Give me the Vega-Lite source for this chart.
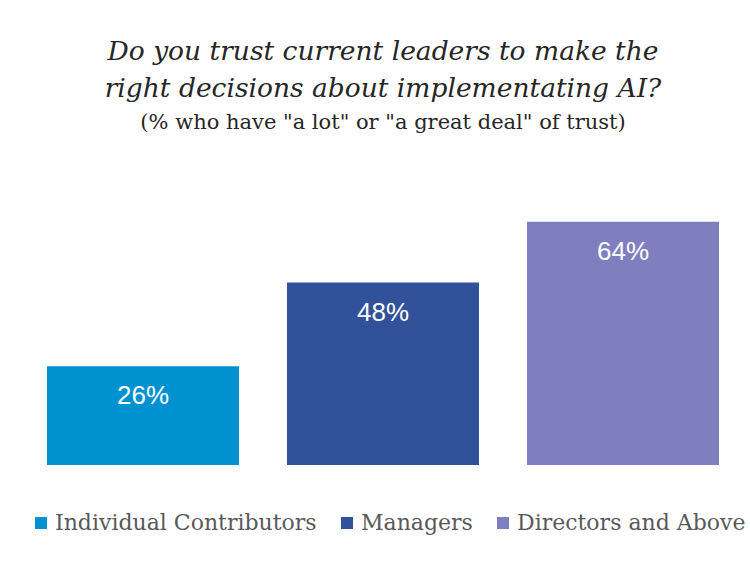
{
  "$schema": "https://vega.github.io/schema/vega-lite/v6.json",
  "autosize": "none",
  "width": 720,
  "height": 266,
  "padding": {"left": 23, "top": 199, "right": 7, "bottom": 101},
  "background": "white",
  "title": {
    "text": ["Do you trust current leaders to make the", "right decisions about implementating AI?"],
    "subtitle": "(% who have \"a lot\" or \"a great deal\" of trust)",
    "font": "DejaVu Serif",
    "fontStyle": "italic",
    "fontWeight": "normal",
    "fontSize": 26.5,
    "lineHeight": 37,
    "color": "#262626",
    "subtitleFont": "DejaVu Serif",
    "subtitleFontSize": 21,
    "subtitleColor": "#262626",
    "subtitlePadding": 10,
    "anchor": "middle",
    "offset": 66
  },
  "data": {
    "values": [
      {"group": "Individual Contributors", "value": 26, "label": "26%"},
      {"group": "Managers", "value": 48, "label": "48%"},
      {"group": "Directors and Above", "value": 64, "label": "64%"}
    ]
  },
  "config": {"view": {"stroke": null}},
  "layer": [
    {
      "mark": {"type": "bar"},
      "encoding": {
        "x": {"field": "group", "type": "nominal", "sort": null, "axis": null,
              "scale": {"paddingInner": 0.2, "paddingOuter": 0.1}},
        "y": {"field": "value", "type": "quantitative", "axis": null, "scale": {"domain": [0, 70]}},
        "color": {
          "field": "group", "type": "nominal", "sort": null,
          "scale": {"domain": ["Individual Contributors", "Managers", "Directors and Above"],
                    "range": ["#0092D0", "#31519A", "#7F7FBF"]},
          "legend": {
            "title": null,
            "orient": "bottom",
            "direction": "horizontal",
            "offset": 40,
            "padding": 7,
            "symbolType": "square",
            "symbolSize": 144,
            "symbolStrokeWidth": 0,
            "labelFont": "DejaVu Serif",
            "labelFontSize": 22,
            "labelColor": "#595959",
            "labelOffset": 3,
            "columnPadding": 19,
            "labelLimit": 400
          }
        }
      }
    },
    {
      "mark": {"type": "text", "color": "white", "font": "Liberation Sans", "fontSize": 26, "baseline": "middle", "dy": 30},
      "encoding": {
        "x": {"field": "group", "type": "nominal", "sort": null},
        "y": {"field": "value", "type": "quantitative"},
        "text": {"field": "label", "type": "nominal"}
      }
    }
  ]
}
